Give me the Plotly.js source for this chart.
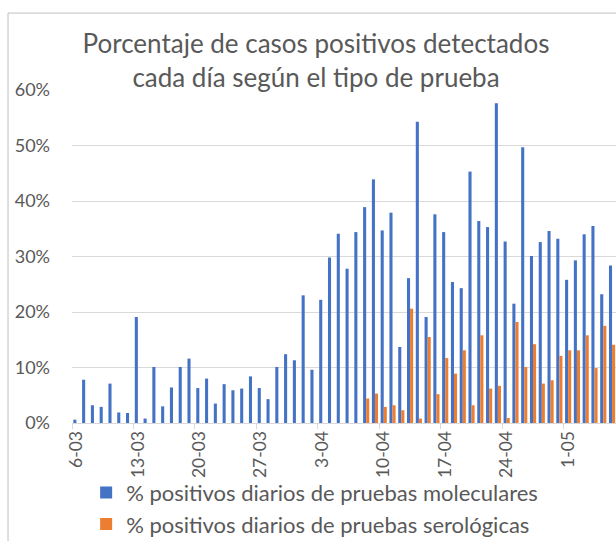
<!DOCTYPE html>
<html>
<head>
<meta charset="utf-8">
<script src="https://cdn.plot.ly/plotly-3.0.1.min.js"></script>
<style>
html,body{margin:0;padding:0;background:#fff;overflow:hidden;}
#chart{width:616px;height:541px;}
</style>
</head>
<body>
<div id="chart"></div>
<script>
const days = [
 "6-03","7-03","8-03","9-03","10-03","11-03","12-03","13-03","14-03","15-03",
 "16-03","17-03","18-03","19-03","20-03","21-03","22-03","23-03","24-03","25-03",
 "26-03","27-03","28-03","29-03","30-03","31-03","1-04","2-04","3-04","4-04",
 "5-04","6-04","7-04","8-04","9-04","10-04","11-04","12-04","13-04","14-04",
 "15-04","16-04","17-04","18-04","19-04","20-04","21-04","22-04","23-04","24-04",
 "25-04","26-04","27-04","28-04","29-04","30-04","1-05","2-05","3-05","4-05",
 "5-05","6-05"
];
const moleculares = [
 0.6,7.8,3.2,2.9,7.1,1.9,1.8,19.1,0.8,10.1,
 3.0,6.4,10.1,11.6,6.3,8.0,3.5,7.0,5.9,6.2,
 8.4,6.3,4.3,10.1,12.4,11.3,23.0,9.6,22.2,29.8,
 34.1,27.8,34.4,38.9,43.9,34.7,37.9,13.7,26.1,54.3,
 19.1,37.6,34.4,25.4,24.3,45.3,36.4,35.3,57.6,32.7,
 21.5,49.7,30.1,32.6,34.6,33.2,25.8,29.3,34.0,35.5,
 23.2,28.4
];
const serologicas = [
 null,null,null,null,null,null,null,null,null,null,
 null,null,null,null,null,null,null,null,null,null,
 null,null,null,null,null,null,null,null,null,null,
 null,null,null,4.4,5.3,2.9,3.2,2.3,20.6,0.8,
 15.5,5.2,11.7,8.9,13.1,3.2,15.8,6.2,6.7,0.9,
 18.2,10.1,14.2,7.1,7.7,12.1,13.1,13.1,15.8,9.9,
 17.5,14.1
];
const seriesNames = ["% positivos diarios de pruebas moleculares","% positivos diarios de pruebas serológicas"];
const titleLines = ["Porcentaje de casos positivos detectados","cada día según el tipo de prueba"];

const FONT = "Lato, 'Open Sans', sans-serif";
const GREY = "#595959";

const traces = [
 {type:"bar", x:days, y:moleculares, name:seriesNames[0], marker:{color:"#4472C4"}, hoverinfo:"skip"},
 {type:"bar", x:days, y:serologicas, name:seriesNames[1], marker:{color:"#ED7D31"}, hoverinfo:"skip"}
];

const layout = {
 width:616, height:541,
 margin:{l:72, r:0, t:90, b:118, autoexpand:false},
 paper_bgcolor:"#fff", plot_bgcolor:"#fff",
 font:{family:FONT, color:GREY},
 barmode:"group", bargap:0.3, bargroupgap:0,
 title:{text:titleLines.join("<br>"), font:{family:FONT, size:26, color:GREY},
        x:0.513, xref:"container", xanchor:"center", y:0.902, yref:"container", yanchor:"middle",
        automargin:false},
 xaxis:{type:"category", range:[-0.5,61.45], tickmode:"linear", tick0:0, dtick:7,
        tickson:"boundaries", ticks:"outside", ticklen:5, tickcolor:"#D9D9D9",
        showline:true, linecolor:"#D9D9D9", linewidth:1, showgrid:false, automargin:false,
        tickangle:-90, tickfont:{family:FONT, size:17.5, color:GREY}},
 yaxis:{range:[0,60], dtick:10, ticksuffix:"%", showgrid:true, gridcolor:"#D9D9D9", gridwidth:1,
        zeroline:false, showline:false, ticks:"", ticklabelstandoff:21, automargin:false,
        tickfont:{family:FONT, size:18, color:GREY}},
 showlegend:true,
 legend:{orientation:"v", x:0.026, xanchor:"left", y:-0.146, yanchor:"top",
         bgcolor:"rgba(0,0,0,0)",
         font:{family:FONT, size:22, color:GREY}, itemsizing:"constant", tracegroupgap:0},
 shapes:[{type:"rect", xref:"paper", yref:"paper", x0:-0.1176, x1:1.2, y0:-0.5, y1:1.231,
          line:{color:"#BFBFBF", width:1}, fillcolor:"rgba(0,0,0,0)", layer:"below"}]
};

Plotly.newPlot("chart", traces, layout, {staticPlot:true, displayModeBar:false});
</script>
</body>
</html>
